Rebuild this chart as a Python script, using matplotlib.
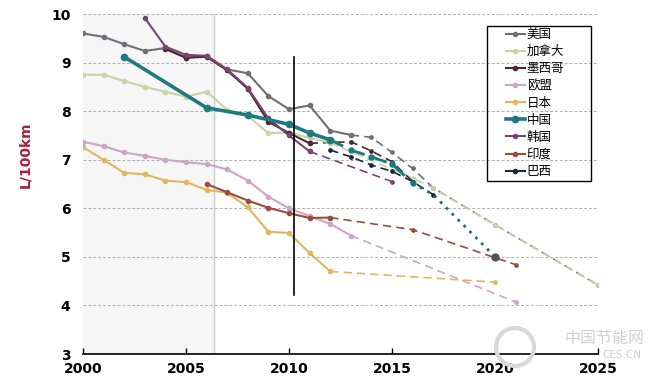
import matplotlib.pyplot as plt
from matplotlib.patches import Rectangle, Ellipse

plt.rcParams["font.family"] = ["DejaVu Sans", "Noto Sans CJK SC"]

# measured values (solid) and projections (dashed)
us_years = list(range(2000, 2014))
us_vals = [9.6, 9.53, 9.38, 9.24, 9.3, 9.1, 9.14, 8.86, 8.78, 8.31, 8.04, 8.12, 7.6, 7.51]
us_proj_years = [2013, 2014, 2015, 2016, 2017, 2020, 2025]
us_proj_vals = [7.51, 7.46, 7.15, 6.82, 6.42, 5.66, 4.42]

ca_years = list(range(2000, 2013))
ca_vals = [8.75, 8.75, 8.62, 8.5, 8.4, 8.3, 8.4, 8.03, 7.9, 7.55, 7.56, 7.45, 7.35]
ca_proj_years = [2012, 2016, 2017, 2020, 2025]
ca_proj_vals = [7.35, 6.62, 6.42, 5.66, 4.42]

mx_years = list(range(2004, 2012))
mx_vals = [9.28, 9.1, 9.12, 8.84, 8.46, 7.78, 7.55, 7.34]
mx_proj_years = [2011, 2013, 2014, 2015, 2016]
mx_proj_vals = [7.34, 7.37, 7.18, 6.96, 6.55]

eu_years = list(range(2000, 2014))
eu_vals = [7.37, 7.28, 7.15, 7.08, 7.0, 6.95, 6.91, 6.8, 6.57, 6.24, 6.0, 5.84, 5.68, 5.44]
eu_proj_years = [2013, 2021]
eu_proj_vals = [5.44, 4.07]

jp_years = list(range(2000, 2013))
jp_vals = [7.26, 7.0, 6.73, 6.7, 6.57, 6.54, 6.38, 6.32, 6.02, 5.52, 5.49, 5.08, 4.7]
jp_proj_years = [2012, 2020]
jp_proj_vals = [4.7, 4.48]

cn_years = [2002, 2006, 2008, 2010, 2011, 2012]
cn_vals = [9.12, 8.07, 7.92, 7.73, 7.55, 7.41]
cn_proj_years = [2012, 2013, 2014, 2015, 2016]
cn_proj_vals = [7.41, 7.2, 7.06, 6.91, 6.52]
cn_target_years = [2016, 2017, 2020]
cn_target_vals = [6.52, 6.28, 5.0]

kr_years = list(range(2003, 2012))
kr_vals = [9.92, 9.33, 9.16, 9.14, 8.86, 8.48, 7.85, 7.5, 7.17]
kr_proj_years = [2011, 2015]
kr_proj_vals = [7.17, 6.55]

in_years = [2006, 2007, 2008, 2009, 2010, 2011, 2012]
in_vals = [6.5, 6.33, 6.16, 6.01, 5.9, 5.8, 5.81]
in_proj_years = [2012, 2016, 2021]
in_proj_vals = [5.81, 5.56, 4.84]

br_proj_years = [2012, 2013, 2014, 2015, 2016, 2017]
br_proj_vals = [7.2, 7.06, 6.89, 6.76, 6.55, 6.28]

fig = plt.figure(figsize=(6.53, 3.85), dpi=100)
ax = fig.add_axes([0.127, 0.0805, 0.789, 0.883])

ax.axvspan(2000, 2006.35, color="#f6f6f6", zorder=0)
ax.axvline(2006.35, color="#cccccc", linewidth=1, zorder=1)
for v in range(4, 11):
    ax.axhline(v, color="#b0b0b0", linewidth=0.7, linestyle=(0, (3, 2)), zorder=1)

dash = (0, (5, 3))
series = [
    ("美国", "#707074", us_years, us_vals, us_proj_years, us_proj_vals),
    ("加拿大", "#c6d4a6", ca_years, ca_vals, ca_proj_years, ca_proj_vals),
    ("墨西哥", "#4a2636", mx_years, mx_vals, mx_proj_years, mx_proj_vals),
    ("欧盟", "#cba6c6", eu_years, eu_vals, eu_proj_years, eu_proj_vals),
    ("日本", "#e2b660", jp_years, jp_vals, jp_proj_years, jp_proj_vals),
    ("中国", "#1f7a80", cn_years, cn_vals, cn_proj_years, cn_proj_vals),
    ("韩国", "#7a4470", kr_years, kr_vals, kr_proj_years, kr_proj_vals),
    ("印度", "#9a4a3e", in_years, in_vals, in_proj_years, in_proj_vals),
    ("巴西", "#1c2a38", [], [], br_proj_years, br_proj_vals),
]

for name, color, yrs, vals, pyrs, pvals in series:
    lw = 2.6 if name == "中国" else 1.5
    ms = 4.5 if name == "中国" else 3
    z = 5 if name == "中国" else 3
    ax.plot(pyrs, pvals, color=color, linewidth=lw * 0.8, linestyle=dash,
            marker="o", markersize=ms * 0.8, zorder=z - 1)
    ax.plot(yrs, vals, color=color, linewidth=lw, marker="o",
            markersize=ms, zorder=z, label=name)

ax.plot(cn_target_years, cn_target_vals, color="#1f6a70", linewidth=2,
        linestyle=(0, (1, 2)), zorder=5)
ax.plot(cn_target_years[-1], cn_target_vals[-1], "o", color="#555555",
        markersize=5, zorder=6)

leg = fig.legend(*ax.get_legend_handles_labels(), loc="upper left",
                 bbox_to_anchor=(506 / 653, 1 - 28 / 385), fontsize=9,
                 frameon=False, handlelength=1.5, handletextpad=0.15,
                 labelspacing=0.33, borderpad=0, borderaxespad=0)
fig.add_artist(Rectangle((487 / 653, 1 - 181 / 385), 104 / 653, 155 / 385,
                         transform=fig.transFigure, fill=False,
                         edgecolor="black", linewidth=1))

ax.plot([2010.25, 2010.25], [4.22, 9.12], color="black", linewidth=1.2, zorder=7)

ax.set_xlim(2000, 2025)
ax.set_ylim(3, 10)
ax.set_xticks([2000, 2005, 2010, 2015, 2020, 2025])
ax.set_yticks(range(3, 11))
for s in ["top", "right", "left"]:
    ax.spines[s].set_visible(False)
ax.spines["bottom"].set_linewidth(1.2)
ax.tick_params(axis="x", direction="in", length=4, width=1, pad=6, labelsize=10)
ax.tick_params(axis="y", length=0, pad=9, labelsize=10)
for lbl in ax.get_xticklabels() + ax.get_yticklabels():
    lbl.set_fontweight("bold")

fig.text(25 / 653, 1 - 155 / 385, "L/100km", rotation=90, color="#a52035",
         fontsize=10, fontweight="bold", ha="center", va="center")

# watermark
fig.add_artist(Ellipse((515 / 653, 1 - 347 / 385), 38 / 653, 38 / 385,
                       transform=fig.transFigure, fill=False,
                       edgecolor="#d8d8d8", linewidth=3))
fig.text(604 / 653, 1 - 338 / 385, "中国节能网", color="#d0d0d0", fontsize=11.5,
         ha="center", va="center", family=["Noto Sans CJK SC", "DejaVu Sans"])
fig.text(622 / 653, 1 - 355 / 385, "CES.CN", color="#d0d0d0", fontsize=7.5,
         ha="center", va="center")

fig.savefig("out.png", dpi=100)
